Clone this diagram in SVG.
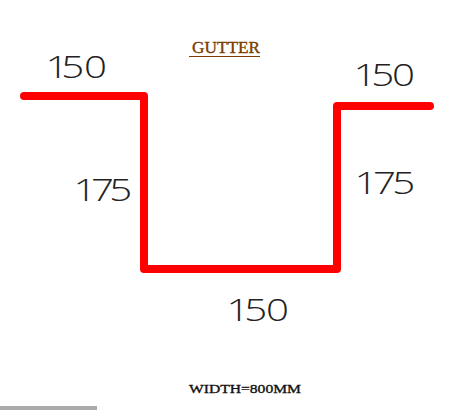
<svg xmlns="http://www.w3.org/2000/svg" width="452" height="410" viewBox="0 0 452 410">
<style>
.dim{font-family:"Open Sans",sans-serif;font-weight:300;font-size:31px;fill:#222}
.cap{font-family:"Liberation Serif",serif;stroke-width:.35px}
</style>
<rect width="452" height="410" fill="#fff"/>
<path d="M24 96H144V269H337V106H430" fill="none" stroke="#f00" stroke-width="8" stroke-linecap="round" stroke-linejoin="round"/>
<text class="dim" transform="translate(52,78) scale(1.3,1)" x="-5 7.2 24.7" y="0">150</text>
<text class="dim" transform="translate(80,201) scale(1.3,1)" x="-5 8.5 22.6" y="0">175</text>
<text class="dim" transform="translate(360,86) scale(1.3,1)" x="-5 8.7 24.6" y="0">150</text>
<text class="dim" transform="translate(361,194) scale(1.3,1)" x="-5 9.3 24" y="0">175</text>
<text class="dim" transform="translate(233,321) scale(1.3,1)" x="-5 8.7 25.4" y="0">150</text>
<text class="cap" x="192" y="53" font-size="16.5" fill="#7a3c00" stroke="#7a3c00" textLength="68" lengthAdjust="spacingAndGlyphs">GUTTER</text>
<rect x="189" y="56" width="71" height="1" fill="#7a3c00"/>
<text class="cap" x="189" y="393" font-size="13.5" fill="#111" stroke="#111" textLength="112" lengthAdjust="spacingAndGlyphs">WIDTH=800MM</text>
<rect x="0" y="406" width="97" height="4" fill="#aaa"/>
</svg>
